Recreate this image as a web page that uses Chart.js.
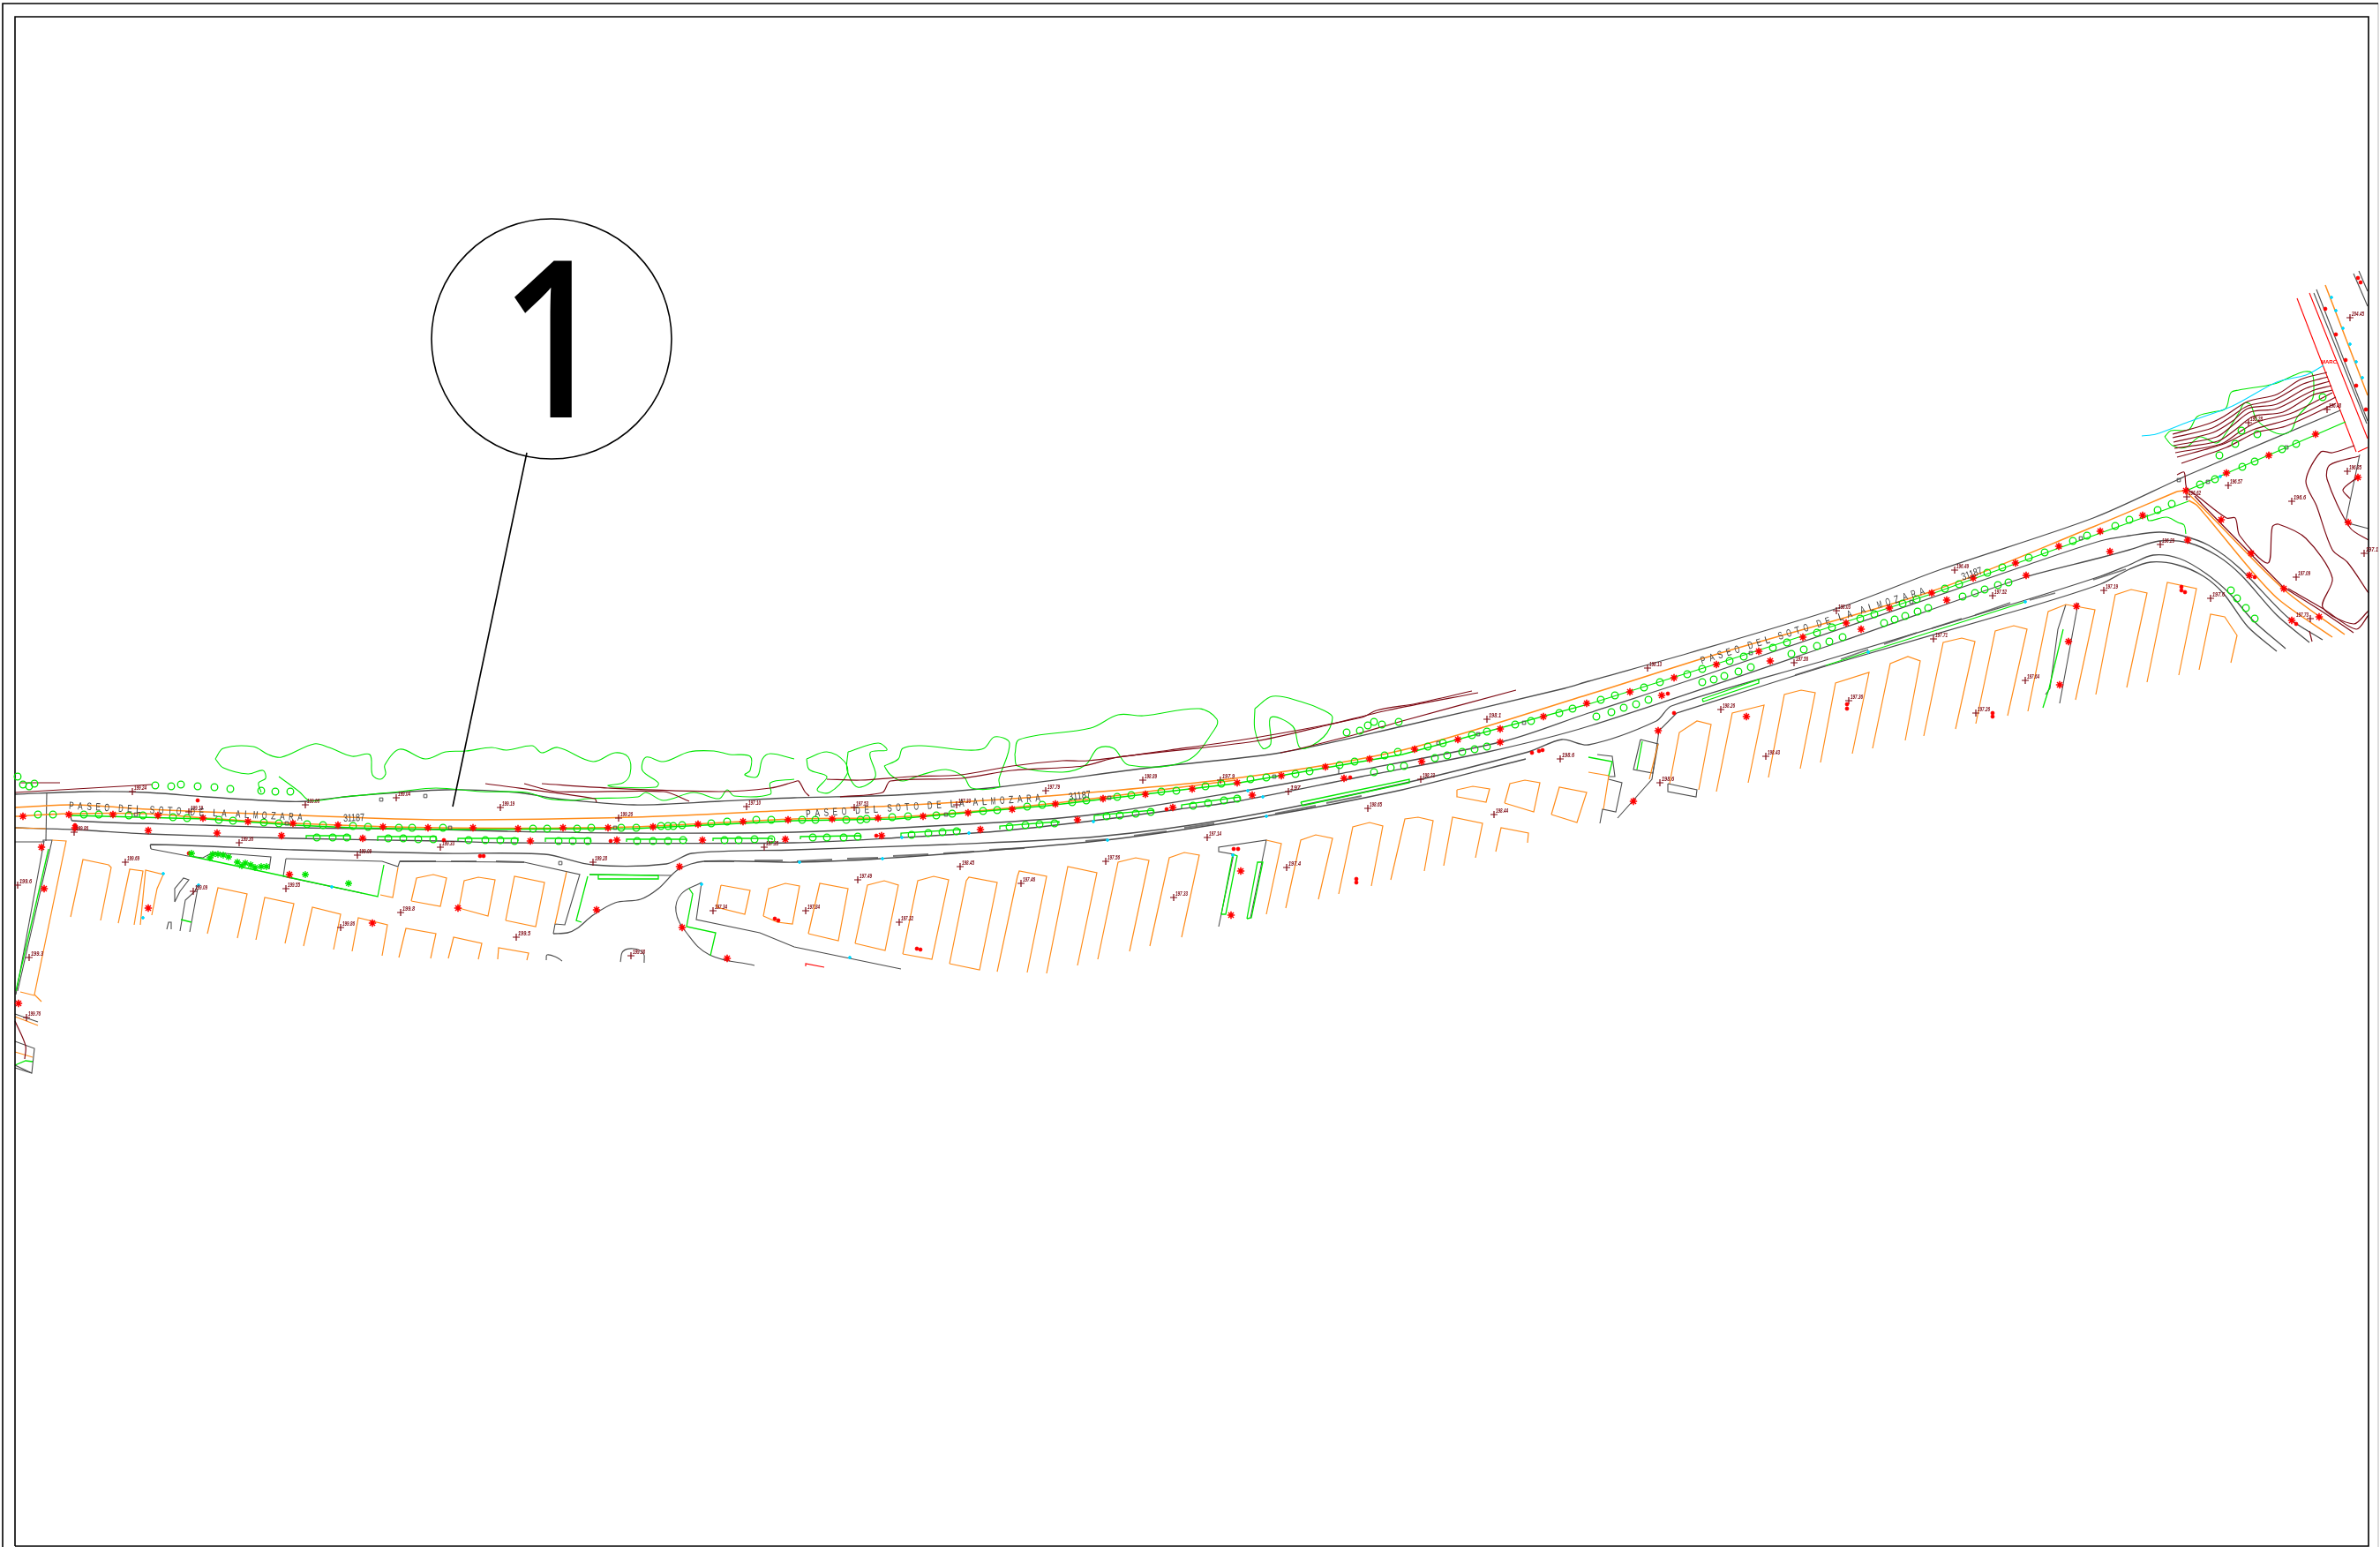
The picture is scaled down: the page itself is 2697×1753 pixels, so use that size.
<!DOCTYPE html>
<html>
<head>
<meta charset="utf-8">
<title>Paseo del Soto de la Almozara</title>
<script src="https://cdn.jsdelivr.net/npm/chart.js@4/dist/chart.umd.min.js"></script>
<style>
  html, body { margin: 0; padding: 0; background: #fff; }
  canvas { display: block; }
</style>
</head>
<body>
<canvas id="plan" width="2697" height="1753"></canvas>
<script>
// drawing units are the sheet's own
const sheetW = 2697;
const sheetH = 1753;

const frameLines = [
  [[3,1753],[3,4],[2695,4]],
  [[17,1752],[17,19],[2684,19],[2684,1752],[17,1752]],
];
const frameEdge = [[[2695,4],[2695,1753]]];
const leaderLine = [[[597,513],[513,914]]];
const calloutCentre = [[625,384]];

const roadLines = [
  [[17,900],[100,897],[167,898],[233,903],[320,908],[347,908],[400,902],[505,895],[586,898],[631,905],[718,912],[815,908],[900,904],[1015,901],[1130,892],[1302,870],[1451,853],[1589,823],[1773,780],[1800,772],[1914,740],[2086,688],[2200,645],[2372,587],[2469,543],[2480,538],[2652,465]],
  [[80,925],[82,930],[233,935],[333,938],[500,940],[574,942],[718,944],[900,943],[1130,932],[1239,923],[1405,897],[1517,877],[1704,840],[1800,808],[1926,767],[2292,642],[2380,613],[2413,607],[2447,603],[2473,607],[2503,618],[2537,643],[2593,700],[2632,725]],
  [[17,938],[83,940],[167,945],[333,950],[500,953],[574,955],[900,955],[1021,949],[1130,942],[1239,930],[1336,917],[1402,908],[1543,880],[1686,852],[1800,823],[2086,727],[2292,655],[2380,632],[2413,623],[2447,613],[2480,615],[2513,630],[2540,652],[2580,697],[2617,728]],
  [[171,962],[171,957],[333,963],[500,967],[617,968],[672,980],[755,979],[784,967],[900,963],[1072,957],[1244,948],[1399,927],[1589,888],[1732,852],[1770,838],[1800,844],[1877,817],[1894,800],[2069,748],[2292,681],[2380,653],[2413,640],[2440,629],[2470,633],[2500,650],[2527,673],[2553,703],[2590,735]],
  [[627,1058],[643,1057],[654,1052],[672,1037],[697,1023],[726,1019],[746,1007],[769,985],[798,976],[900,977],[998,973],[1253,952],[1434,925],[1589,895],[1729,860]],
  [[1900,808],[2075,753],[2292,690],[2380,662],[2413,645],[2437,637],[2467,640],[2497,653],[2520,673],[2547,710],[2580,738]],
];

const siteLines = [
  [[53,898],[52,953]],
  [[17,954],[49,954],[49,952],[59,952],[20,1123]],
  [[50,953],[18,1127]],
  [[171,962],[213,970],[230,972],[241,966],[307,971],[305,985]],
  [[324,973],[321,993],[410,1012]],
  [[324,973],[433,976],[451,982],[453,976],[594,977],[657,991],[640,1048],[629,1047],[627,1058]],
  [[668,991],[761,992]],
  [[795,1000],[789,1042],[861,1057],[900,1073],[1021,1098]],
  [[198,1022],[198,1007],[208,995],[214,997],[204,1010],[198,1022]],
  [[204,1055],[210,1020],[221,1010],[224,1003]],
  [[215,1056],[224,1007]],
  [[189,1053],[191,1045],[194,1045],[194,1053]],
  [[1381,1050],[1398,968],[1381,965],[1381,960],[1435,952],[1417,1040]],
  [[1517,869],[1517,877]],
  [[1810,855],[1827,857],[1830,880],[1823,880]],
  [[1823,883],[1838,887],[1831,920],[1816,917],[1813,933]],
  [[1859,838],[1879,843],[1873,876],[1851,872],[1859,838]],
  [[1900,808],[1880,828],[1872,883],[1833,927]],
  [[1890,888],[1923,895],[1922,903],[1890,897],[1890,888]],
  [[2341,685],[2332,713],[2323,780],[2318,787]],
  [[2355,683],[2334,797]],
  [[2674,515],[2658,592],[2684,599]],
  [[2622,332],[2682,480]],
  [[2625,328],[2683,477]],
  [[2667,310],[2683,347]],
  [[2673,307],[2683,330]],
  [[17,1180],[39,1188],[36,1216],[17,1210]],
  [[17,1207],[36,1216]],
  [[17,1149],[43,1158]],
];

const siteCurves = [
  [[795,1000],[772,1013],[766,1033],[778,1057],[804,1082],[855,1094]],
  [[703,1090],[706,1078],[718,1075],[729,1080],[730,1091]],
  [[619,1088],[620,1082],[631,1085],[637,1089]],
];

const kerbDashes = [
  [[453,976],[494,976]],[[511,976],[540,976]],[[562,976],[594,977]],[[798,976],[832,976]],[[855,975],[887,975]],
  [[903,976],[943,974]],[[960,973],[995,972]],[[1012,970],[1052,968]],[[1069,967],[1104,965]],[[1121,963],[1161,961]],
  [[1230,953],[1256,951]],[[1285,947],[1322,942]],[[1342,938],[1376,933]],[[1445,922],[1491,913]],[[1503,910],[1543,902]],
  [[2034,765],[2069,754]],[[2086,747],[2117,736]],[[2135,730],[2172,717]],[[2189,712],[2223,701]],[[2238,697],[2278,683]],
  [[2300,680],[2329,672]],[[2372,657],[2409,645]],
];

const orangeRoad = [
  [[17,915],[83,912],[167,917],[233,920],[367,925],[500,929],[718,926],[900,918],[1015,913],[1187,902],[1399,882],[1589,850],[1800,787],[1943,742],[2189,670],[2372,597],[2467,557]],
  [[2467,557],[2477,557],[2587,667],[2657,719]],
  [[17,925],[77,922],[167,922],[233,927],[333,933],[500,938],[718,937],[900,928],[1015,926],[1187,911],[1400,884]],
  [[2480,567],[2490,573],[2550,645],[2583,680],[2643,722]],
  [[2635,323],[2683,448]],
];

const orangeLots = [
  [[80,1039],[94,974],[123,980],[126,983],[114,1043]],
  [[134,1046],[147,985],[162,987],[152,1048]],
  [[159,1048],[165,986],[185,991],[178,1007],[172,1037]],
  [[235,1058],[247,1006],[280,1013],[269,1063]],
  [[290,1065],[300,1017],[333,1024],[323,1069]],
  [[344,1072],[354,1028],[386,1036],[378,1076]],
  [[399,1078],[406,1040],[439,1048],[433,1083]],
  [[452,1085],[460,1052],[494,1058],[488,1086]],
  [[508,1086],[514,1062],[546,1069],[542,1087]],
  [[564,1087],[565,1074],[599,1080],[597,1088]],
  [[466,1021],[472,995],[491,991],[506,995],[499,1027],[466,1021]],
  [[520,1029],[526,998],[542,994],[561,997],[553,1038],[520,1029]],
  [[573,1043],[583,993],[617,1000],[607,1050],[573,1043]],
  [[629,1047],[642,988]],
  [[451,983],[445,1017],[431,1014]],
  [[817,1003],[850,1009],[844,1036],[812,1028],[817,1003]],
  [[865,1038],[871,1007],[890,1001],[906,1004],[898,1047],[881,1045],[865,1038]],
  [[916,1058],[929,1001],[961,1007],[950,1066],[916,1058]],
  [[969,1069],[983,1003],[1002,998],[1018,1003],[1003,1077],[969,1069]],
  [[1023,1081],[1040,998],[1058,993],[1075,997],[1056,1087],[1023,1081]],
  [[1076,1092],[1095,998],[1098,994],[1130,1000],[1110,1099],[1076,1092]],
  [[1130,1101],[1153,993],[1155,987],[1186,993],[1164,1102]],
  [[1186,1103],[1210,982],[1243,989],[1221,1094]],
  [[1244,1087],[1267,977],[1287,972],[1302,975],[1280,1078]],
  [[1303,1072],[1325,972],[1342,966],[1359,969],[1339,1062]],
  [[1435,952],[1452,956],[1435,1036]],
  [[1457,1029],[1474,952],[1491,946],[1510,950],[1494,1019]],
  [[1517,1013],[1533,937],[1552,932],[1567,936],[1554,1004]],
  [[1576,997],[1592,928],[1607,926],[1624,930],[1614,987]],
  [[1636,981],[1646,926],[1680,933],[1672,972]],
  [[1695,965],[1701,938],[1732,944],[1731,955]],
  [[1651,895],[1669,891],[1688,894],[1684,909],[1652,903],[1651,895]],
  [[1705,910],[1711,888],[1728,884],[1745,887],[1738,920],[1705,910]],
  [[1758,923],[1767,892],[1798,898],[1787,932],[1758,923]],
  [[1800,875],[1823,879],[1817,917]],
  [[1879,843],[1869,883]],
  [[1892,888],[1903,830],[1923,817],[1939,821],[1925,895]],
  [[1945,897],[1963,808],[1999,799],[1981,887]],
  [[2004,881],[2022,787],[2041,782],[2057,785],[2040,871]],
  [[2063,864],[2080,774],[2118,762],[2099,854]],
  [[2122,848],[2142,752],[2162,744],[2176,749],[2159,839]],
  [[2180,834],[2202,728],[2223,723],[2238,727],[2216,826]],
  [[2239,820],[2261,715],[2282,709],[2297,713],[2275,811]],
  [[2298,806],[2321,693],[2341,685],[2374,691],[2352,793]],
  [[2375,787],[2397,674],[2415,668],[2433,672],[2410,779]],
  [[2433,773],[2456,660],[2489,667],[2469,765]],
  [[2492,759],[2505,696],[2521,699],[2535,720],[2528,751]],
  [[59,952],[75,953],[39,1127],[47,1135]],
  [[23,1124],[39,1128]],
  [[17,938],[52,939]],
  [[17,1192],[37,1198]],
  [[17,1152],[43,1162]],
];

const greenLines = [
  [[80,924],[233,928],[333,935],[400,938],[500,940],[718,939],[900,930],[1015,928],[1187,913],[1399,888],[1589,855],[1800,798],[1943,753],[2189,673],[2372,607],[2433,585],[2480,568]],
  [[2480,555],[2658,478]],
  [[215,970],[304,989],[428,1016],[435,980]],
  [[668,991],[746,992],[746,996],[678,996],[678,991]],
  [[666,993],[653,1043],[659,1045]],
  [[781,1007],[785,1013],[778,1050],[811,1057],[805,1083]],
  [[205,1042],[217,1045]],
  [[55,962],[18,1123]],
  [[347,950],[347,947],[397,947],[397,952]],
  [[428,953],[428,948],[494,948],[494,952]],
  [[519,953],[519,950],[587,950],[587,953]],
  [[618,954],[618,950],[669,950],[669,954]],
  [[710,954],[710,951],[778,951],[778,953]],
  [[808,953],[808,950],[875,950],[875,952]],
  [[907,951],[907,948],[975,947],[975,949]],
  [[1021,949],[1021,944],[1088,940],[1088,942]],
  [[1133,940],[1133,936],[1200,931],[1200,933]],
  [[1240,930],[1240,924],[1307,918],[1307,920]],
  [[1339,916],[1339,912],[1405,903],[1405,906]],
  [[1474,909],[1597,883],[1597,887],[1476,913],[1474,909]],
  [[1384,1036],[1397,968],[1402,970],[1389,1036],[1384,1036]],
  [[1413,1041],[1425,977],[1431,977],[1418,1040],[1413,1041]],
  [[1800,858],[1827,863],[1823,879]],
  [[1861,840],[1855,872]],
  [[1929,792],[1993,770],[1993,774],[1930,795],[1929,792]],
  [[2069,754],[2295,682]],
  [[2338,713],[2322,780],[2315,802]],
  [[17,1207],[29,1202],[37,1203]],
];

const greenOutlines = [
  [[244,860],[253,848],[287,846],[304,855],[319,858],[356,843],[373,847],[399,857],[419,855],[422,878],[431,883],[437,877],[436,867],[453,849],[482,860],[505,852],[528,851],[557,847],[574,850],[603,845],[614,853],[632,847],[672,863],[697,853],[712,858],[714,877],[706,887],[689,890],[697,892],[743,892],[746,887],[728,873],[732,858],[752,863],[781,852],[809,851],[827,855],[850,857],[850,873],[844,878],[858,880],[864,860],[873,854],[900,860]],
  [[244,860],[253,870],[281,877],[298,873],[301,882],[293,887],[296,898]],
  [[316,880],[339,897],[350,907],[362,907],[390,903],[453,897],[494,893],[545,897],[597,898],[620,905],[649,907],[666,905],[723,903],[732,898],[752,907],[786,898],[815,905],[824,895],[832,902],[873,900],[873,887],[900,883]],
  [[914,860],[937,852],[957,863],[960,877],[940,898],[926,895],[937,880],[917,872],[914,860]],
  [[961,852],[995,842],[1005,850],[986,853],[992,880],[972,892],[960,873],[961,852]],
  [[1002,868],[1018,860],[1023,848],[1044,845],[1095,850],[1115,848],[1127,835],[1144,842],[1132,883],[1132,892],[1101,893],[1092,880],[1072,872],[1044,878],[1023,885],[1009,878],[1002,868]],
  [[1150,855],[1155,838],[1236,825],[1267,810],[1296,811],[1359,803],[1379,815],[1376,827],[1345,862],[1279,867],[1262,848],[1244,848],[1230,867],[1204,875],[1153,868],[1150,855]],
  [[1422,803],[1442,789],[1474,795],[1500,805],[1510,813],[1500,835],[1474,848],[1465,823],[1440,813],[1440,843],[1431,848],[1422,827],[1422,803]],
  [[2453,495],[2460,488],[2480,487],[2490,472],[2507,467],[2522,463],[2528,445],[2537,442],[2577,435],[2600,425],[2612,421],[2620,423],[2622,440],[2620,453],[2603,473],[2597,487],[2587,492],[2573,488],[2557,475],[2550,458],[2543,457],[2537,468],[2523,490],[2512,502],[2493,495],[2477,507],[2462,505],[2453,495]],
  [[2433,583],[2435,590],[2455,586],[2468,592],[2475,595],[2477,605]],
];

const contourLines = [
  [[2462,492],[2503,480],[2520,472],[2547,455],[2580,447],[2607,430],[2637,422]],
  [[2462,496],[2507,485],[2527,473],[2547,460],[2577,453],[2610,435],[2638,427]],
  [[2463,501],[2508,490],[2530,477],[2547,463],[2580,458],[2613,440],[2640,432]],
  [[2463,505],[2512,495],[2530,482],[2550,467],[2580,463],[2620,443],[2642,437]],
  [[2464,508],[2513,500],[2533,487],[2553,472],[2587,467],[2620,448],[2643,442]],
  [[2465,513],[2517,503],[2537,490],[2558,478],[2597,468],[2643,445]],
  [[2467,518],[2520,503],[2553,487],[2600,473],[2647,450]],
  [[2472,525],[2523,507],[2557,490],[2590,483],[2647,457]],
  [[2467,538],[2475,535],[2478,553],[2490,562],[2523,587],[2533,587],[2538,607],[2570,638],[2575,597],[2582,594],[2613,610],[2643,655],[2632,688],[2667,707],[2684,692]],
  [[2487,562],[2497,573],[2587,665]],
  [[2668,505],[2643,513],[2630,512],[2613,545],[2625,573],[2643,623],[2660,637],[2684,672]],
  [[2673,517],[2640,527],[2637,543],[2663,598],[2684,612]],
  [[2670,542],[2655,555],[2663,565]],
  [[2593,667],[2633,690],[2670,713],[2684,697]],
  [[2587,665],[2630,692],[2667,717]],
  [[2617,715],[2620,727]],
  [[17,898],[172,889]],
  [[23,887],[68,887]],
  [[550,888],[674,905],[676,909]],
  [[594,888],[631,897],[752,897],[781,908]],
  [[614,888],[689,893],[815,897],[873,893],[900,886],[905,885],[912,897],[917,902]],
  [[937,883],[975,884],[1032,880],[1089,878],[1147,868],[1204,862],[1233,862],[1325,850],[1428,835],[1543,813],[1560,805],[1606,797],[1668,783]],
  [[952,903],[1000,898],[1009,885],[1089,882],[1147,873],[1227,868],[1267,858],[1422,840],[1503,822],[1572,805],[1675,785]],
  [[1451,853],[1474,848],[1537,832],[1589,817],[1718,782]],
  [[17,1157],[29,1185],[28,1200]],
];

const cyanLines = [[[2427,494],[2443,492],[2480,478],[2530,460],[2580,433],[2613,425],[2633,414]]];
const redLines = [
  [[2603,338],[2670,512]],
  [[2617,332],[2683,497]],
  [[2672,512],[2683,507]],
  [[913,1095],[913,1092],[934,1096]],
];

const treePoints = [
  [20,880],[26,889],[33,891],[39,888],[43,923],[60,923],[95,923],[112,923],[146,924],[162,924],[176,890],[194,891],[205,889],[224,891],[243,892],[261,894],[296,896],[312,897],[329,897],
  [196,926],[212,927],[248,929],[264,930],[299,932],[316,933],[348,934],[366,935],[400,936],[417,937],[452,938],[467,938],[502,938],[604,939],[620,939],[654,939],[670,938],[704,938],[721,938],[749,936],[757,936],[763,936],[773,935],[806,933],[824,931],[857,929],[874,929],
  [909,929],[924,929],[959,929],[975,929],[982,928],[1011,926],[1029,925],[1061,924],[1079,922],[1114,919],[1130,918],[1164,914],[1181,912],[1215,909],[1231,907],[1266,903],[1282,901],[1316,897],[1333,896],[1366,891],[1384,888],[1417,883],[1435,881],[1468,877],[1484,874],[1518,867],[1535,863],[1569,856],[1584,852],[1618,846],[1635,842],[1668,833],[1685,829],[1717,821],[1735,817],[1767,808],[1782,803],
  [1814,793],[1830,788],[1863,779],[1881,773],[1912,764],[1929,758],[1960,749],[1976,744],[2009,734],[2025,728],[2059,717],[2076,711],[2108,701],[2124,696],[2156,684],[2172,679],[2204,667],[2220,662],[2252,649],[2269,643],[2299,632],[2317,626],[2349,613],[2365,607],[2397,596],[2413,589],[2445,578],[2461,571],
  [2493,549],[2510,543],[2541,529],[2555,523],[2586,509],[2602,503],
  [359,949],[377,949],[393,949],[440,950],[457,950],[474,951],[491,951],[531,952],[550,952],[567,952],[583,953],[633,953],[649,953],[666,953],[722,953],[740,953],[757,953],[774,952],[821,952],[837,952],[855,951],[874,951],
  [921,949],[937,949],[956,949],[972,948],[1033,946],[1052,944],[1068,943],[1084,942],[1144,937],[1162,935],[1178,934],[1195,933],[1254,925],[1269,924],[1287,922],[1304,920],[1352,913],[1369,910],[1387,907],[1402,905],[1557,875],[1576,870],[1591,868],[1626,859],[1640,856],[1657,852],[1671,849],[1685,846],
  [1809,812],[1826,807],[1840,802],[1854,798],[1868,793],[1929,773],[1942,770],[1954,766],[1970,761],[1984,756],[2030,741],[2044,736],[2059,732],[2073,727],[2088,722],[2135,706],[2147,702],[2159,698],[2173,693],[2185,689],[2224,676],[2238,672],[2249,668],[2264,663],[2276,660],
  [2528,669],[2535,678],[2545,689],[2555,701],[1526,830],[1541,828],[1550,822],[1557,818],[1566,821],[1585,818],
  [2632,450],[2540,488],[2558,492],[2533,503],[2515,516],
];

const lampStars = [
  [26,925],[78,923],[128,923],[179,924],[230,927],[281,931],[332,933],[383,935],[434,937],[485,938],[536,938],[587,939],[638,938],[689,938],[740,937],[791,934],[842,931],[893,929],
  [943,928],[995,927],[1046,925],[1097,921],[1147,917],[1196,911],[1250,905],[1298,900],[1351,894],[1402,887],[1452,879],[1502,869],[1552,860],[1603,849],[1652,838],[1700,826],[1749,812],[1798,797],
  [1847,784],[1897,768],[1945,753],[1993,738],[2043,722],[2092,706],[2141,689],[2189,672],[2236,655],[2284,638],[2333,619],[2380,602],[2428,584],[2477,556],[2523,536],[2571,516],[2624,492],
  [85,938],[168,941],[246,944],[319,947],[411,950],[601,953],[699,952],[796,952],[890,951],[47,960],[50,1007],[168,1029],[328,991],[422,1046],[519,1029],[676,1031],[770,982],[773,1051],[824,1086],[21,1137],
  [999,947],[1111,940],[1221,929],[1329,915],[1419,901],[1523,882],[1611,863],[1700,841],[1406,987],[1395,1037],
  [1883,788],[2006,749],[2109,713],[2206,680],[2296,652],[2391,625],[2479,612],[1879,828],[1979,812],[1851,908],[2353,687],[2344,727],[2334,776],[2517,589],[2551,627],[2549,652],[2588,667],[2597,703],[2628,699],[2672,541],[2661,592],
];

const redDots = [
  [224,907],[503,952],[692,953],[544,970],[548,970],[878,1041],[882,1043],[85,935],[214,967],[993,947],[1322,917],[1530,881],[1039,1075],[1043,1076],[1398,962],[1403,962],[1537,996],[1537,1000],[1736,853],[1744,851],[1748,850],
  [1890,786],[2472,665],[2472,669],[2476,671],[2093,798],[2093,803],[2258,808],[2258,812],[1897,808],[2555,654],[2602,707],[2635,350],[2647,379],[2658,408],[2670,437],[2681,464],[2672,315],[2675,320],
];

const cyanDots = [
  [185,990],[225,1003],[376,1005],[162,1040],[795,1002],[906,977],[1000,973],[1255,952],[1435,925],[1022,949],[1098,944],[1239,931],[1431,903],[1414,896],[963,1085],[1397,969],[2295,682],[2117,739],[2516,540],[2642,337],[2647,352],[2655,372],[2663,390],[2670,410],[2677,428],
];

const greenStars = [
  [217,967],[238,972],[241,968],[247,968],[253,969],[259,971],[269,977],[274,981],[278,978],[284,980],[289,983],[296,982],[302,982],[346,991],[395,1001],
];

const manholes = [
  [154,923],[325,933],[510,938],[697,938],[432,906],[482,902],[635,978],[1072,923],[1257,904],[1444,880],[1630,842],[1675,832],[1727,819],[1984,740],[2166,682],[2358,610],[2469,544],[2502,546],[2591,507],
];

// spot levels: x, y, level as printed
const spotLevels = [
  [150,897,"199.24"],[346,912,"199.06"],[449,904,"199.04"],[567,915,"199.19"],[846,914,"197.10"],[701,927,"199.26"],[214,920,"199.19"],[84,943,"199.86"],[271,955,"199.36"],[499,960,"199.33"],[866,960,"197.35"],[405,969,"199.09"],[672,977,"199.28"],[142,977,"199.69"],[324,1007,"199.55"],[219,1010,"199.09"],[20,1003,"199.6"],[454,1034,"199.8"],[386,1051,"199.86"],[585,1062,"199.5"],[808,1032,"197.34"],[715,1083,"199.38"],[33,1085,"199.3"],[30,1153,"199.76"],
  [968,915,"197.53"],[1084,912,"197.33"],[1185,896,"197.79"],[1295,884,"198.89"],[1383,884,"197.9"],[1460,897,"197"],[1610,883,"198.23"],[1550,916,"198.65"],[1693,923,"198.44"],[1685,815,"198.1"],[1368,949,"197.14"],[1458,983,"197.4"],[1253,976,"197.56"],[1157,1001,"197.46"],[1088,982,"198.45"],[972,997,"197.49"],[913,1032,"197.84"],[1019,1045,"197.32"],[1330,1017,"197.33"],[1768,860,"198.6"],
  [1867,757,"198.13"],[1950,804,"198.26"],[2033,751,"197.56"],[2081,692,"198.03"],[2215,646,"196.49"],[2258,675,"197.52"],[2191,724,"197.71"],[2095,794,"197.36"],[2239,808,"197.26"],[2295,771,"197.64"],[2001,857,"198.43"],[2384,669,"197.19"],[2505,678,"197.6"],[1881,887,"198.6"],
  [2448,617,"196.29"],[2478,563,"196.62"],[2525,550,"196.57"],[2597,568,"196.6"],[2602,654,"197.09"],[2660,534,"196.85"],[2663,360,"204.45"],[2548,479,"195.28"],[2637,464,"196.48"],[2679,627,"197.1"],
];
const spotLevelsLeft = [[2618,701,"197.73"]];

// street names: first letter, last letter, text
const streetNames = [
  [81,913,340,926,"PASEO DEL SOTO DE LA ALMOZARA"],
  [916,922,1176,904,"PASEO DEL SOTO DE LA ALMOZARA"],
  [1930,748,2178,670,"PASEO DEL SOTO DE LA ALMOZARA"],
];
const roadCodes = [
  [389,927,413,926,"31187"],
  [1211,903,1236,900,"31187"],
  [2223,654,2246,646,"31187"],
];
const sheetNotes = [[2630,412,"MARC."]];
const calloutNumber = "1";

const GREY = "#4c4c4c";
const ORANGE = "#ff8c1a";
const GREEN = "#00e600";
const DARKRED = "#7d0a14";
const RED = "#ff0000";
const CYAN = "#00d8ff";

const toXY = p => ({ x: p[0], y: p[1] });

function lineSets(paths, color, width, tension) {
  return paths.map(p => ({
    type: "scatter",
    data: p.map(toXY),
    showLine: true,
    fill: false,
    borderColor: color,
    borderWidth: width,
    tension: tension || 0,
    pointRadius: 0,
    order: 2,
  }));
}

function pointSet(points, style, radius, color, width, fillColor) {
  return {
    type: "scatter",
    data: points.map(toXY),
    showLine: false,
    pointStyle: style,
    pointRadius: radius,
    pointBorderColor: color,
    pointBorderWidth: width,
    pointBackgroundColor: fillColor || "rgba(0,0,0,0)",
    order: 1,
  };
}

const datasets = [].concat(
  lineSets(frameLines, "#000", 1.6),
  lineSets(frameEdge, "#dcdcdc", 2),
  lineSets(leaderLine, "#000", 1.6),
  lineSets(cyanLines, CYAN, 1.1, 0.3),
  lineSets(contourLines, DARKRED, 1.2, 0.3),
  lineSets(greenOutlines, GREEN, 1.1, 0.35),
  lineSets(greenLines, GREEN, 1.3),
  lineSets(orangeRoad, ORANGE, 1.5, 0.3),
  lineSets(orangeLots, ORANGE, 1.2),
  lineSets(roadLines, GREY, 1.3, 0.3),
  lineSets(siteLines, GREY, 1.1),
  lineSets(siteCurves, GREY, 1.1, 0.4),
  lineSets(kerbDashes, "#777", 1.8),
  lineSets(redLines, RED, 1.1),
  [
    pointSet(calloutCentre, "circle", 136, "#000", 1.6),
    pointSet(treePoints, "circle", 3.8, GREEN, 1.3),
    pointSet(manholes, "rect", 2.6, GREY, 1),
    pointSet(greenStars, "star", 4, GREEN, 1.3),
    pointSet(lampStars, "star", 4.2, RED, 1.6),
    pointSet(redDots, "circle", 1.9, RED, 1, RED),
    pointSet(cyanDots, "circle", 1.4, CYAN, 1, CYAN),
    pointSet(spotLevels.concat(spotLevelsLeft), "cross", 4, DARKRED, 1.2),
  ]
);

// plain text layer: Chart.js has no annotation text on its own
const planText = {
  id: "planText",
  afterDatasetsDraw(chart) {
    const ctx = chart.ctx;
    const sx = v => chart.scales.x.getPixelForValue(v);
    const sy = v => chart.scales.y.getPixelForValue(v);
    ctx.save();
    ctx.textBaseline = "alphabetic";

    // squeezed a bit, the sheet's numeral is narrower than Open Sans
    ctx.save();
    ctx.fillStyle = "#000";
    ctx.font = '600 248px "Open Sans"';
    ctx.textAlign = "center";
    ctx.translate(sx(calloutCentre[0][0]) + 2.5, sy(473));
    ctx.scale(0.85, 1);
    ctx.fillText(calloutNumber, 0, 0);
    ctx.restore();

    ctx.fillStyle = DARKRED;
    ctx.font = 'italic bold 7px "Liberation Sans"';
    ctx.textAlign = "left";
    spotLevels.forEach(s => ctx.fillText(s[2], sx(s[0]) + 2, sy(s[1]) - 2.5, 14));
    ctx.textAlign = "right";
    spotLevelsLeft.forEach(s => ctx.fillText(s[2], sx(s[0]) - 2, sy(s[1]) - 2, 14));

    ctx.fillStyle = "#3c3c3c";
    ctx.font = '12px "Liberation Sans"';
    ctx.textAlign = "center";
    streetNames.forEach(n => {
      const dx = sx(n[2]) - sx(n[0]);
      const dy = sy(n[3]) - sy(n[1]);
      const chars = n[4].split("");
      const units = chars.reduce((a, c) => a + (c === " " ? 0.55 : 1), -1);
      const len = Math.hypot(dx, dy);
      let at = 0;
      ctx.save();
      ctx.translate(sx(n[0]), sy(n[1]));
      ctx.rotate(Math.atan2(dy, dx));
      chars.forEach(c => {
        if (c === " ") { at += 0.55; return; }
        ctx.fillText(c, at / units * len, 4, 5.5);
        at += 1;
      });
      ctx.restore();
    });

    ctx.font = '12px "Liberation Sans"';
    ctx.textAlign = "center";
    roadCodes.forEach(n => {
      const dx = sx(n[2]) - sx(n[0]);
      const dy = sy(n[3]) - sy(n[1]);
      ctx.save();
      ctx.translate((sx(n[0]) + sx(n[2])) / 2, (sy(n[1]) + sy(n[3])) / 2);
      ctx.rotate(Math.atan2(dy, dx));
      ctx.fillText(n[4], 0, 4, Math.hypot(dx, dy));
      ctx.restore();
    });

    ctx.fillStyle = RED;
    ctx.font = 'bold 6px "Liberation Sans"';
    ctx.textAlign = "left";
    sheetNotes.forEach(n => ctx.fillText(n[2], sx(n[0]), sy(n[1]), 21));
    ctx.restore();
  },
};

new Chart(document.getElementById("plan"), {
  type: "scatter",
  data: { datasets: datasets },
  plugins: [planText],
  options: {
    responsive: false,
    animation: false,
    devicePixelRatio: 1,
    events: [],
    layout: { padding: 0, autoPadding: false },
    plugins: { legend: { display: false }, tooltip: { enabled: false } },
    scales: {
      x: { type: "linear", display: false, min: 0, max: sheetW },
      y: { type: "linear", display: false, reverse: true, min: 0, max: sheetH },
    },
  },
});
</script>
</body>
</html>
